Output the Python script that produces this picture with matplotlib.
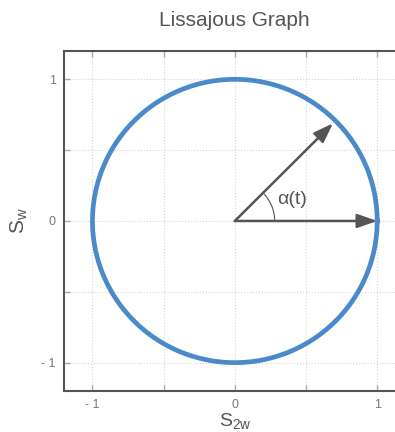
import numpy as np
import matplotlib
matplotlib.use("Agg")
import matplotlib.pyplot as plt
from matplotlib.patches import Arc

plt.rcParams["font.family"] = ["Liberation Sans", "DejaVu Sans"]
plt.rcParams["mathtext.fontset"] = "custom"
plt.rcParams["mathtext.rm"] = "Liberation Sans"
plt.rcParams["mathtext.it"] = "Liberation Sans"

# tick positions and labels
tick_pos = [-1, -0.5, 0, 0.5, 1]
tick_labels = ["- 1", "", "0", "", "1"]

# the circle (S_2w, S_w) and the two arrows
theta_deg = np.arange(0, 361, 1)
circle_x = np.cos(np.radians(theta_deg))
circle_y = np.sin(np.radians(theta_deg))
arrow_ends = [(1.0, 0.0), (0.69, 0.69)]
angle_label = "α(t)"

blue = "#4a8acb"
dark = "#555555"

fig = plt.figure(figsize=(3.95, 4.32), dpi=100)
ax = fig.add_axes([0.162, 0.095, 0.865, 0.787])

ax.plot(circle_x, circle_y, color=blue, lw=3.4, zorder=3)

for ex, ey in arrow_ends:
    ax.annotate("", xy=(ex, ey), xytext=(0, 0),
                arrowprops=dict(arrowstyle="-|>,head_length=1.2,head_width=0.42",
                                color=dark, lw=1.8, shrinkA=0, shrinkB=0),
                zorder=4)

ax.add_patch(Arc((0, 0), 0.56, 0.56, theta1=0, theta2=45, color=dark, lw=0.8))
ax.text(0.3, 0.15, angle_label, fontsize=14, color=dark, ha="left", va="center")

ax.set_xlim(-1.2, 1.2)
ax.set_ylim(-1.2, 1.2)
ax.set_xticks(tick_pos)
ax.set_xticklabels(tick_labels)
ax.set_yticks(tick_pos)
ax.set_yticklabels(tick_labels)
ax.tick_params(direction="in", length=4, width=1, colors="#aaaaaa",
               labelcolor="#777777", labelsize=9, top=True, pad=6)
ax.grid(True, ls=":", color="#d4d4d4", lw=0.8)

for side in ["left", "bottom", "top", "right"]:
    ax.spines[side].set_color(dark)
    ax.spines[side].set_linewidth(1.5)

ax.set_xlabel(r"$\mathregular{S_{2w}}$", fontsize=14, color=dark, labelpad=0)
ax.set_ylabel(r"$\mathregular{S_w}$", fontsize=15, color=dark, labelpad=8)
fig.text(0.592, 0.953, "Lissajous Graph", fontsize=15, color="#555555",
         ha="center", va="center")

fig.savefig("out.png", dpi=100)
